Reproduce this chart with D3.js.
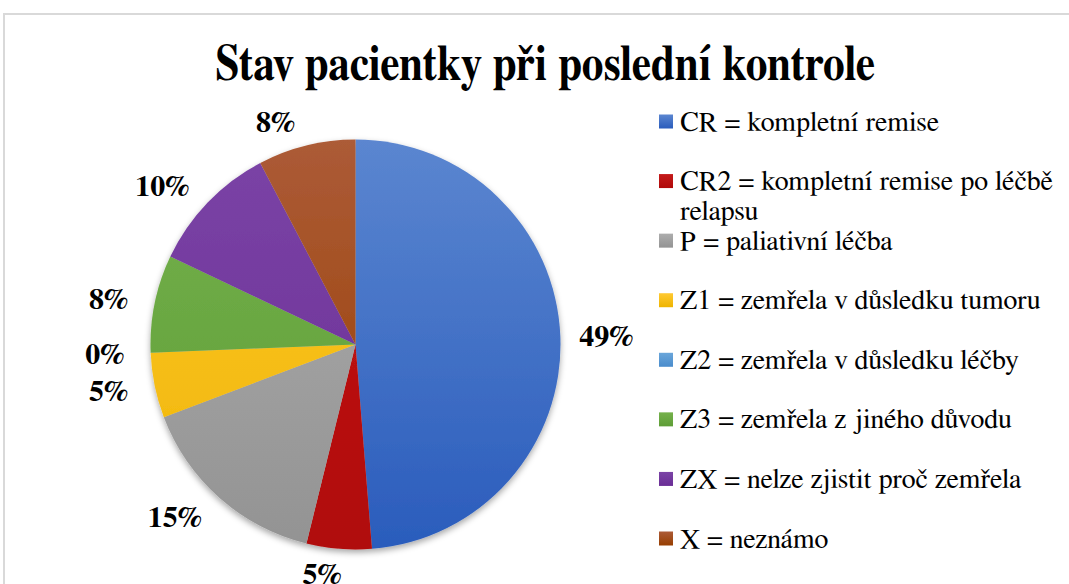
<!DOCTYPE html>
<html>
<head>
<meta charset="utf-8">
<script src="https://cdn.jsdelivr.net/npm/d3@7"></script>
<style>
  html, body { margin: 0; padding: 0; background: #fff; }
  svg { display: block; }
</style>
</head>
<body>
<svg id="chart" width="1069" height="584"></svg>
<script>
// ---- data ----
const title = "Stav pacientky při poslední kontrole";
const categories = ["CR", "CR2", "P", "Z1", "Z2", "Z3", "ZX", "X"];
const legendLabels = [
  ["CR = kompletní remise"],
  ["CR2 = kompletní remise po léčbě", "relapsu"],
  ["P = paliativní léčba"],
  ["Z1 = zemřela v důsledku tumoru"],
  ["Z2 = zemřela v důsledku léčby"],
  ["Z3 = zemřela z jiného důvodu"],
  ["ZX = nelze zjistit proč zemřela"],
  ["X = neznámo"]
];
const counts = [19, 2, 6, 2, 0, 3, 4, 3];
const colorsTop = ["#5b86d0", "#c41a1a", "#adadad", "#ffc933", "#6aa6da", "#75b14c", "#7b44a6", "#ac5b37"];
const colorsBottom = ["#2a5cbc", "#b00a0a", "#939393", "#eeb400", "#4a8ccc", "#5e9d37", "#6a2d95", "#973e00"];

// ---- layout ----
const FONT = "FreeSerif, 'Liberation Serif', 'Times New Roman', serif";
const svg = d3.select("#chart");
const cx = 355.5, cy = 344.5, r = 205;

// frame
svg.append("rect")
  .attr("x", 4).attr("y", 14).attr("width", 1100).attr("height", 600)
  .attr("fill", "none").attr("stroke", "#d9d9d9").attr("stroke-width", 2);

// title
svg.append("text")
  .attr("x", 545).attr("y", 80)
  .attr("text-anchor", "middle")
  .style("font-family", FONT)
  .style("font-weight", "bold")
  .style("font-size", "51px")
  .attr("textLength", 660)
  .attr("lengthAdjust", "spacingAndGlyphs")
  .attr("fill", "#000")
  .text(title);

const defs = svg.append("defs");
categories.forEach((c, i) => {
  const g = defs.append("linearGradient")
    .attr("id", "grad" + i)
    .attr("gradientUnits", "userSpaceOnUse")
    .attr("x1", 0).attr("x2", 0)
    .attr("y1", -r).attr("y2", r);
  g.append("stop").attr("offset", "0%").attr("stop-color", colorsTop[i]);
  g.append("stop").attr("offset", "100%").attr("stop-color", colorsBottom[i]);
  const lg = defs.append("linearGradient").attr("id", "lg" + i)
    .attr("x1", 0).attr("x2", 0).attr("y1", 0).attr("y2", 1);
  lg.append("stop").attr("offset", "0%").attr("stop-color", colorsTop[i]);
  lg.append("stop").attr("offset", "100%").attr("stop-color", colorsBottom[i]);
});
const shadow = defs.append("filter").attr("id", "shadow")
  .attr("x", "-10%").attr("y", "-10%").attr("width", "120%").attr("height", "120%");
shadow.append("feDropShadow")
  .attr("dx", 0).attr("dy", 3).attr("stdDeviation", 3)
  .attr("flood-color", "#000").attr("flood-opacity", 0.35);

const total = d3.sum(counts);
const pie = d3.pie().sort(null).value(d => d.v).startAngle(0).endAngle(2 * Math.PI);
const arcs = pie(categories.map((c, i) => ({ c, v: counts[i], i })));
const arc = d3.arc().innerRadius(0).outerRadius(r);

const g = svg.append("g").attr("transform", `translate(${cx},${cy})`);
const slices = g.append("g").attr("filter", "url(#shadow)");
slices.selectAll("path")
  .data(arcs.filter(d => d.data.v > 0))
  .join("path")
  .attr("d", arc)
  .attr("fill", d => `url(#grad${d.data.i})`);

// data labels (outside end)
const Rx = 251, Ry = 230;
g.selectAll("text.lbl")
  .data(arcs)
  .join("text")
  .attr("class", "lbl")
  .attr("x", d => {
    const a = (d.startAngle + d.endAngle) / 2;
    const dx = Math.sin(a);
    return Rx * Math.sign(dx) * Math.pow(Math.abs(dx), 0.8);
  })
  .attr("y", d => {
    const a = (d.startAngle + d.endAngle) / 2;
    return -Ry * Math.cos(a);
  })
  .attr("dy", "0.35em")
  .attr("text-anchor", "middle")
  .style("font-family", FONT)
  .style("font-weight", "bold")
  .style("font-size", "30px")
  .attr("fill", "#000")
  .text(d => Math.round(d.data.v / total * 100) + "%");

// legend
const legendY = d3.scalePoint().domain(categories).range([121.5, 538.5]);
const leg = svg.append("g");
categories.forEach((c, i) => {
  const y = legendY(c);
  leg.append("rect")
    .attr("x", 659).attr("y", y - 7).attr("width", 14).attr("height", 14)
    .attr("fill", `url(#lg${i})`);
  const t = leg.append("text")
    .attr("x", 680).attr("y", y + 9)
    .style("font-family", FONT)
    .style("font-size", "28px")
    .attr("fill", "#000");
  legendLabels[i].forEach((line, k) => {
    t.append("tspan").attr("x", 680).attr("dy", k === 0 ? 0 : 30).text(line);
  });
});
</script>
</body>
</html>
